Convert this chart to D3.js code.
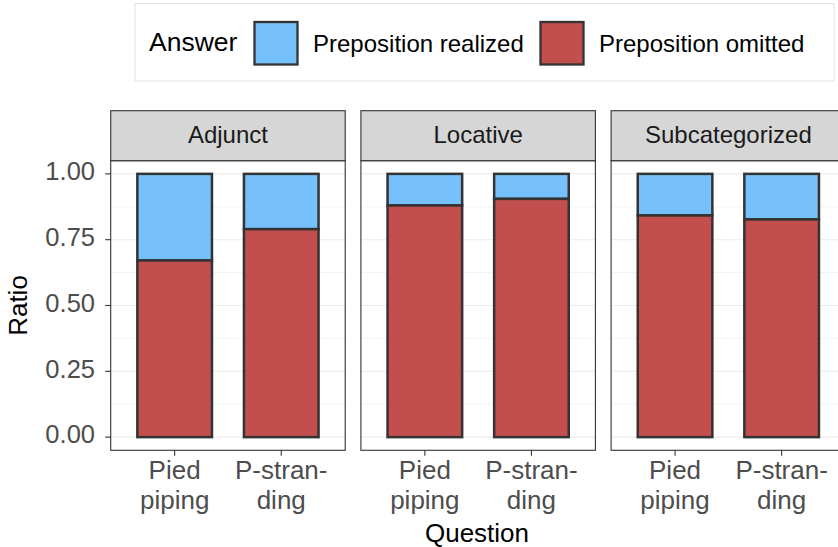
<!DOCTYPE html>
<html><head><meta charset="utf-8">
<script src="https://cdn.jsdelivr.net/npm/d3@7"></script>
<style>body{margin:0;background:#fff}svg{display:block;font-family:"Liberation Sans",Arial,sans-serif}</style>
</head><body><svg id="c" width="838" height="547"></svg>
<script>
const panels = ["Adjunct", "Locative", "Subcategorized"];
const questions = ["Pied piping", "P-stranding"];
const questionLabels = [["Pied", "piping"], ["P-stran-", "ding"]];
const answers = ["Preposition realized", "Preposition omitted"];
// ratio of "Preposition omitted" per panel, per question
const omitted = {
  "Adjunct": [0.671, 0.790],
  "Locative": [0.880, 0.905],
  "Subcategorized": [0.842, 0.827]
};
const yTicks = [0, 0.25, 0.5, 0.75, 1];
const yMinor = [0.125, 0.375, 0.625, 0.875];
const colors = {"Preposition realized": "#76C1FB", "Preposition omitted": "#C34E4E"};

const svg = d3.select("#c");
const panelW = 234.5, gap = 15.7, left = 110.7;
const stripTop = 110.7, stripBot = 160.7, panelBot = 450.3;

const y = d3.scaleLinear().domain([-0.05, 1.05]).range([panelBot, stripBot]);
const fx = d3.scaleOrdinal().domain(panels).range(panels.map((p, i) => left + i * (panelW + gap)));
// discrete scale: expansion 0.6 units each side, bar width 0.7
const xc = d3.scalePoint().domain(questions).range([0.6 / 2.2 * panelW, 1.6 / 2.2 * panelW]);
const barW = 0.7 / 2.2 * panelW;

panels.forEach(p => {
  const g = svg.append("g").attr("transform", `translate(${fx(p)},0)`);
  g.selectAll(".mn").data(yMinor).join("line")
    .attr("x1", 0).attr("x2", panelW).attr("y1", d => y(d)).attr("y2", d => y(d))
    .attr("stroke", "#EBEBEB").attr("stroke-width", 0.6);
  g.selectAll(".mj").data(yTicks).join("line")
    .attr("x1", 0).attr("x2", panelW).attr("y1", d => y(d)).attr("y2", d => y(d))
    .attr("stroke", "#EBEBEB").attr("stroke-width", 1.1);
  questions.forEach((q, i) => {
    const o = omitted[p][i];
    const segs = [
      {a: answers[0], y0: o, y1: 1},
      {a: answers[1], y0: 0, y1: o}
    ];
    g.selectAll(null).data(segs).join("rect")
      .attr("x", xc(q) - barW / 2).attr("width", barW)
      .attr("y", d => y(d.y1)).attr("height", d => y(d.y0) - y(d.y1))
      .attr("fill", d => colors[d.a]).attr("stroke", "#333333").attr("stroke-width", 2.5);
  });
  g.append("rect").attr("x", 0).attr("y", stripBot).attr("width", panelW).attr("height", panelBot - stripBot)
    .attr("fill", "none").attr("stroke", "#333333").attr("stroke-width", 1.1);
  g.append("rect").attr("x", 0).attr("y", stripTop).attr("width", panelW).attr("height", stripBot - stripTop)
    .attr("fill", "#D6D6D6").attr("stroke", "#333333").attr("stroke-width", 1.1);
  g.append("text").attr("x", panelW / 2).attr("y", 143.3).attr("text-anchor", "middle")
    .attr("font-size", 24).attr("fill", "#1A1A1A").text(p);
  questions.forEach((q, i) => {
    g.append("line").attr("x1", xc(q)).attr("x2", xc(q)).attr("y1", panelBot).attr("y2", panelBot + 5.5)
      .attr("stroke", "#333333").attr("stroke-width", 1.1);
    questionLabels[i].forEach((t, k) => {
      g.append("text").attr("x", xc(q)).attr("y", 478.5 + k * 30).attr("text-anchor", "middle")
        .attr("font-size", 26).attr("fill", "#4D4D4D").text(t);
    });
  });
});

const ya = svg.append("g");
ya.selectAll("line").data(yTicks).join("line")
  .attr("x1", left - 5.5).attr("x2", left).attr("y1", d => y(d)).attr("y2", d => y(d))
  .attr("stroke", "#333333").attr("stroke-width", 1.1);
ya.selectAll("text").data(yTicks).join("text")
  .attr("x", 95).attr("y", d => y(d) + 6.3).attr("text-anchor", "end")
  .attr("font-size", 25.5).attr("fill", "#4D4D4D").text(d => d3.format(".2f")(d));

svg.append("text").attr("transform", `translate(27,${(stripBot + panelBot) / 2}) rotate(-90)`)
  .attr("text-anchor", "middle").attr("font-size", 26).attr("fill", "#000").text("Ratio");
svg.append("text").attr("x", 477).attr("y", 542.3).attr("text-anchor", "middle")
  .attr("font-size", 26).attr("fill", "#000").text("Question");

const lg = svg.append("g");
lg.append("rect").attr("x", 135).attr("y", 3.5).attr("width", 699).attr("height", 77.5)
  .attr("fill", "#fff").attr("stroke", "#E3E3E3").attr("stroke-width", 1.1);
lg.append("text").attr("x", 149).attr("y", 51).attr("font-size", 26.5).attr("fill", "#000").text("Answer");
const keyX = [254.5, 540.5], textX = [313, 599];
answers.forEach((a, i) => {
  lg.append("rect").attr("x", keyX[i]).attr("y", 22).attr("width", 43).attr("height", 42.5)
    .attr("fill", colors[a]).attr("stroke", "#333333").attr("stroke-width", 2.3);
  lg.append("text").attr("x", textX[i]).attr("y", 51.5).attr("font-size", 24).attr("fill", "#000").text(a);
});
</script></body></html>
